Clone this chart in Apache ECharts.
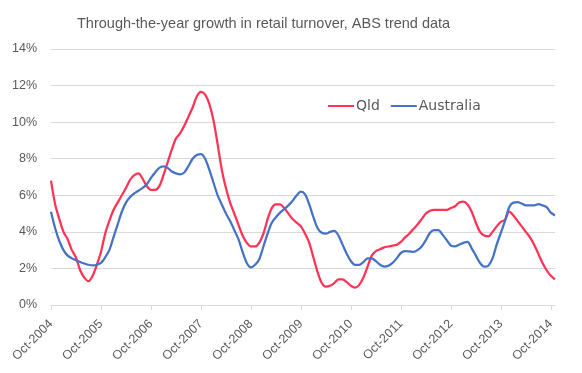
<!DOCTYPE html>
<html>
<head>
<meta charset="utf-8">
<script src="https://cdn.jsdelivr.net/npm/echarts@6/dist/echarts.min.js"></script>
<style>html,body{margin:0;padding:0;background:#fff;}#c{width:582px;height:373px;}</style>
</head>
<body>
<div id="c"></div>
<script>
const titleText = 'Through-the-year growth in retail turnover, ABS trend data';
const monthNames = ['Jan','Feb','Mar','Apr','May','Jun','Jul','Aug','Sep','Oct','Nov','Dec'];
// monthly, Oct-2004 .. Nov-2014
const qld = [6.8,5.5,4.7,4.0,3.6,3.0,2.6,1.9,1.5,1.3,1.6,2.2,
 2.9,3.9,4.6,5.2,5.6,6.0,6.4,6.85,7.1,7.2,6.9,6.5,
 6.3,6.3,6.5,7.1,7.8,8.5,9.1,9.4,9.8,10.3,10.8,11.4,
 11.65,11.5,11.0,10.1,8.8,7.4,6.4,5.6,5.0,4.4,3.8,3.4,
 3.2,3.2,3.4,3.9,4.7,5.3,5.5,5.5,5.3,5.0,4.7,4.5,
 4.3,3.9,3.4,2.6,1.8,1.2,1.0,1.05,1.2,1.4,1.4,1.25,
 1.05,0.95,1.1,1.5,2.1,2.7,2.95,3.05,3.15,3.2,3.25,3.3,
 3.45,3.7,3.9,4.15,4.4,4.7,5.0,5.15,5.2,5.2,5.2,5.2,
 5.3,5.4,5.6,5.65,5.5,5.1,4.5,4.0,3.8,3.75,4.0,4.3,
 4.55,4.65,5.1,4.9,4.6,4.3,4.0,3.7,3.3,2.8,2.3,1.9,
 1.6,1.4];
const australia = [5.1,4.2,3.5,3.0,2.7,2.55,2.45,2.35,2.27,2.2,2.17,2.2,
 2.3,2.6,3.0,3.7,4.4,5.1,5.6,5.9,6.1,6.25,6.4,6.6,
 6.95,7.25,7.5,7.58,7.5,7.3,7.2,7.15,7.25,7.6,8.0,8.2,
 8.25,8.0,7.4,6.7,6.0,5.5,5.0,4.6,4.1,3.6,2.9,2.3,
 2.06,2.2,2.5,3.2,3.9,4.5,4.8,5.05,5.25,5.45,5.7,6.0,
 6.2,6.05,5.5,4.8,4.2,3.95,3.9,4.0,4.05,3.8,3.3,2.8,
 2.4,2.2,2.2,2.35,2.55,2.55,2.4,2.2,2.1,2.15,2.3,2.55,
 2.85,2.95,2.93,2.9,3.0,3.2,3.55,3.95,4.1,4.1,3.85,3.55,
 3.25,3.2,3.3,3.4,3.45,3.1,2.7,2.3,2.1,2.15,2.55,3.3,
 3.95,4.6,5.35,5.6,5.62,5.55,5.45,5.45,5.45,5.52,5.45,5.35,
 5.05,4.9];
const categories = [];
for (let i = 0; i < qld.length; i++) {
  const m = (9 + i) % 12;
  const y = 2004 + Math.floor((9 + i) / 12);
  categories.push(monthNames[m] + '-' + y);
}
const font = 'Liberation Sans';
const chart = echarts.init(document.getElementById('c'));
chart.setOption({
  animation: false,
  backgroundColor: '#ffffff',
  title: {
    text: titleText, left: 72, top: 11,
    textStyle: {fontFamily: font, fontSize: 14.5, fontWeight: 'normal', color: '#595959'}
  },
  legend: {
    left: 323, top: 94, itemWidth: 26, itemHeight: 2, itemGap: 11,
    icon: 'rect',
    textStyle: {fontFamily: 'DejaVu Sans', fontSize: 14, color: '#595959', padding: [0,0,0,-3]},
    data: ['Qld', 'Australia']
  },
  grid: {left: 51, right: 27, top: 49, bottom: 68},
  xAxis: {
    type: 'category', data: categories, boundaryGap: false,
    axisLine: {lineStyle: {color: '#d9d9d9'}},
    axisTick: {show: true, interval: 11, length: 5, lineStyle: {color: '#d9d9d9'}},
    axisLabel: {interval: 11, rotate: 45, fontFamily: font, fontSize: 12.5, color: '#595959', margin: 17},
    splitLine: {show: false}
  },
  yAxis: {
    type: 'value', min: 0, max: 14, interval: 2,
    axisLine: {show: false}, axisTick: {show: false},
    axisLabel: {formatter: '{value}%', fontFamily: font, fontSize: 12.5, color: '#595959', margin: 14},
    splitLine: {lineStyle: {color: '#d9d9d9'}}
  },
  series: [
    {name: 'Qld', type: 'line', data: qld, smooth: 0.3, showSymbol: false,
     lineStyle: {color: '#ff3355', width: 2.25}, itemStyle: {color: '#ff3355'}},
    {name: 'Australia', type: 'line', data: australia, smooth: 0.3, showSymbol: false,
     lineStyle: {color: '#4472c4', width: 2.25}, itemStyle: {color: '#4472c4'}}
  ]
});
</script>
</body>
</html>
